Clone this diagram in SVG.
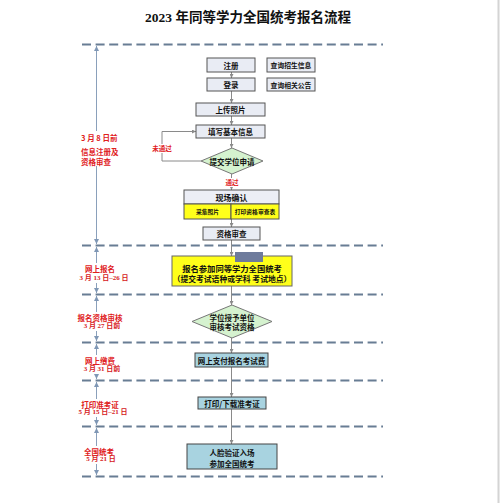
<svg xmlns="http://www.w3.org/2000/svg" width="500" height="503" viewBox="0 0 500 503">
<style>
text{font-family:"Noto Sans CJK SC","Noto Sans",sans-serif;font-weight:bold;text-anchor:middle;dominant-baseline:central;fill:#111}
.t{font-family:"Liberation Serif","Noto Sans CJK SC",serif;font-size:13.5px}
.box{fill:#e9ecf4;stroke:#555;stroke-width:1}
.blue{fill:#a8d3e0;stroke:#444;stroke-width:1}
.yel{fill:#ffff1a;stroke:#666;stroke-width:1}
.dia{fill:#d5f2cf;stroke:#777;stroke-width:1}
.n{font-size:7.5px}
.s{font-size:5.8px}
.red{fill:#e0201c;font-size:7.5px}
.reds{fill:#d6201c;font-size:7px;font-family:"Liberation Serif","Noto Sans CJK SC",serif}
.dash{stroke:#687d94;stroke-width:1.8;stroke-dasharray:9 4.6;fill:none}
.con{stroke:#8a8a8a;stroke-width:1;fill:none}
.side{stroke:#8aa0bb;stroke-width:1;fill:none}
.wb{fill:#fff}
</style>
<defs>
<marker id="a" viewBox="0 0 6 6" refX="6" refY="3" markerWidth="4" markerHeight="4" orient="auto"><path d="M0,0 L6,3 L0,6 z" fill="#8a8a8a"/></marker>
<marker id="sa" viewBox="0 0 6 6" refX="6" refY="3" markerWidth="5" markerHeight="5" orient="auto-start-reverse"><path d="M0,0 L6,3 L0,6 z" fill="#7f97b5"/></marker>
</defs>
<rect width="500" height="503" fill="#fff"/>
<line x1="498.5" y1="0" x2="498.5" y2="503" stroke="#d4d4d4" stroke-width="2"/>
<text class="t" x="248" y="17">2023 年同等学力全国统考报名流程</text>

<g id="dashes">
<line class="dash" x1="82" y1="44.5" x2="383" y2="44.5"/>
<line class="dash" x1="82" y1="245.5" x2="383" y2="245.5"/>
<line class="dash" x1="82" y1="294.5" x2="383" y2="294.5"/>
<line class="dash" x1="82" y1="342.5" x2="383" y2="342.5"/>
<line class="dash" x1="82" y1="380.5" x2="383" y2="380.5"/>
<line class="dash" x1="82" y1="426.5" x2="383" y2="426.5"/>
<line class="dash" x1="82" y1="476.5" x2="383" y2="476.5"/>
</g>

<g id="side-arrows">
<line class="side" x1="96.5" y1="46" x2="96.5" y2="244" marker-start="url(#sa)" marker-end="url(#sa)"/>
<line class="side" x1="96.5" y1="247" x2="96.5" y2="293" marker-start="url(#sa)" marker-end="url(#sa)"/>
<line class="side" x1="96.5" y1="296" x2="96.5" y2="341" marker-start="url(#sa)" marker-end="url(#sa)"/>
<line class="side" x1="96.5" y1="344" x2="96.5" y2="379" marker-start="url(#sa)" marker-end="url(#sa)"/>
<line class="side" x1="96.5" y1="382" x2="96.5" y2="425" marker-start="url(#sa)" marker-end="url(#sa)"/>
<line class="side" x1="96.5" y1="428" x2="96.5" y2="475" marker-start="url(#sa)" marker-end="url(#sa)"/>
</g>

<g id="side-labels">
<rect class="wb" x="81" y="131" width="38" height="35"/>
<text class="red" x="81" y="137" style="text-anchor:start">3 月 8 日前</text>
<text class="red" x="81" y="151" style="text-anchor:start">信息注册及</text>
<text class="red" x="81" y="161" style="text-anchor:start">资格审查</text>
<rect class="wb" x="80" y="263" width="49" height="20"/>
<text class="red" x="100" y="268">网上报名</text>
<text class="reds" x="104" y="278">3 月 13 日–26 日</text>
<rect class="wb" x="76" y="312" width="48" height="19"/>
<text class="red" x="100" y="317">报名资格审核</text>
<text class="reds" x="102" y="326">3 月 27 日前</text>
<rect class="wb" x="84" y="355" width="37" height="19"/>
<text class="red" x="100" y="360">网上缴费</text>
<text class="reds" x="102" y="369">3 月 31 日前</text>
<rect class="wb" x="78" y="399" width="49" height="18"/>
<text class="red" x="100" y="404">打印准考证</text>
<text class="reds" x="103" y="412">5 月 15 日–21 日</text>
<rect class="wb" x="84" y="446" width="31" height="18"/>
<text class="red" x="99" y="451">全国统考</text>
<text class="reds" x="101" y="459">5 月 21 日</text>
</g>

<g id="connectors">
<line class="con" x1="231.5" y1="72" x2="231.5" y2="78" marker-end="url(#a)"/>
<line class="con" x1="231.5" y1="91" x2="231.5" y2="103" marker-end="url(#a)"/>
<line class="con" x1="231.5" y1="116" x2="231.5" y2="125" marker-end="url(#a)"/>
<line class="con" x1="231.5" y1="138" x2="231.5" y2="148" marker-end="url(#a)"/>
<line class="con" x1="231.5" y1="174" x2="231.5" y2="190" marker-end="url(#a)"/>
<line class="con" x1="231.5" y1="219" x2="231.5" y2="227" marker-end="url(#a)"/>
<line class="con" x1="231.5" y1="240" x2="231.5" y2="256" marker-end="url(#a)"/>
<line class="con" x1="231.5" y1="286" x2="231.5" y2="305" marker-end="url(#a)"/>
<line class="con" x1="231.5" y1="338" x2="231.5" y2="353" marker-end="url(#a)"/>
<line class="con" x1="231.5" y1="367" x2="231.5" y2="397" marker-end="url(#a)"/>
<line class="con" x1="231.5" y1="409" x2="231.5" y2="444" marker-end="url(#a)"/>
<polyline class="con" points="201,161 162,161 162,131.5 196,131.5" marker-end="url(#a)"/>
<rect class="wb" x="152" y="144" width="21" height="9"/>
<text class="red" x="162" y="148" style="font-size:6.5px">未通过</text>
<rect class="wb" x="224" y="178" width="16" height="9"/>
<text class="red" x="232" y="182" style="font-size:6.5px">通过</text>
</g>

<g id="n-register"><rect class="box" x="207" y="58" width="48" height="14"/><text class="n" x="231" y="65">注册</text></g>
<g id="n-query-info"><rect class="box" x="267" y="58" width="48" height="14"/><text class="n" x="291" y="65" style="font-size:6.8px">查询招生信息</text></g>
<g id="n-login"><rect class="box" x="207" y="78" width="48" height="13"/><text class="n" x="231" y="84.5">登录</text></g>
<g id="n-query-notice"><rect class="box" x="267" y="78" width="48" height="13"/><text class="n" x="291" y="84.5" style="font-size:6.8px">查询相关公告</text></g>
<g id="n-photo"><rect class="box" x="196" y="103" width="69" height="13"/><text class="n" x="230.5" y="109.5">上传照片</text></g>
<g id="n-fill"><rect class="box" x="196" y="125" width="69" height="13"/><text class="n" x="230.5" y="131.5">填写基本信息</text></g>
<g id="n-apply"><polygon class="dia" points="232,148 263,161 232,174 201,161"/><text class="n" x="232" y="161">提交学位申请</text></g>
<g id="n-confirm">
<rect x="184" y="190" width="95" height="14" fill="#eceef6" stroke="#555"/>
<text class="n" x="231.5" y="197" style="font-size:8px">现场确认</text>
<rect x="184" y="204" width="47" height="15" fill="#ffff1a" stroke="#555"/>
<rect x="231" y="204" width="48" height="15" fill="#ffff1a" stroke="#555"/>
<text class="s" x="207.5" y="211.5">采集照片</text>
<text class="s" x="255" y="211.5">打印资格审查表</text>
</g>
<g id="n-review"><rect class="box" x="203" y="227" width="57" height="13"/><text class="n" x="231.5" y="233.5">资格审查</text></g>
<g id="n-signup">
<rect class="yel" x="172" y="256" width="120" height="30"/>
<rect x="235" y="252" width="28" height="10" fill="#6e7b9c"/>
<text class="n" x="232" y="267.5" style="font-size:8.3px">报名参加同等学力全国统考</text>
<text class="n" x="232" y="278.5" style="font-size:7.8px">（提交考试语种或学科  考试地点）</text>
</g>
<g id="n-school"><polygon class="dia" points="232,305 272,321.5 232,338 192,321.5"/><text class="n" x="232" y="317">学位授予单位</text><text class="n" x="232" y="326.5">审核考试资格</text></g>
<g id="n-pay"><rect class="blue" x="195" y="353" width="73" height="14"/><text class="n" x="231.5" y="360">网上支付报名考试费</text></g>
<g id="n-print"><rect class="blue" x="198" y="397" width="68" height="12"/><text class="n" x="232" y="403">打印/下载准考证</text></g>
<g id="n-exam"><rect class="blue" x="187" y="444" width="90" height="25"/><text class="n" x="232" y="452.5">人脸验证入场</text><text class="n" x="232" y="463.5">参加全国统考</text></g>
</svg>
